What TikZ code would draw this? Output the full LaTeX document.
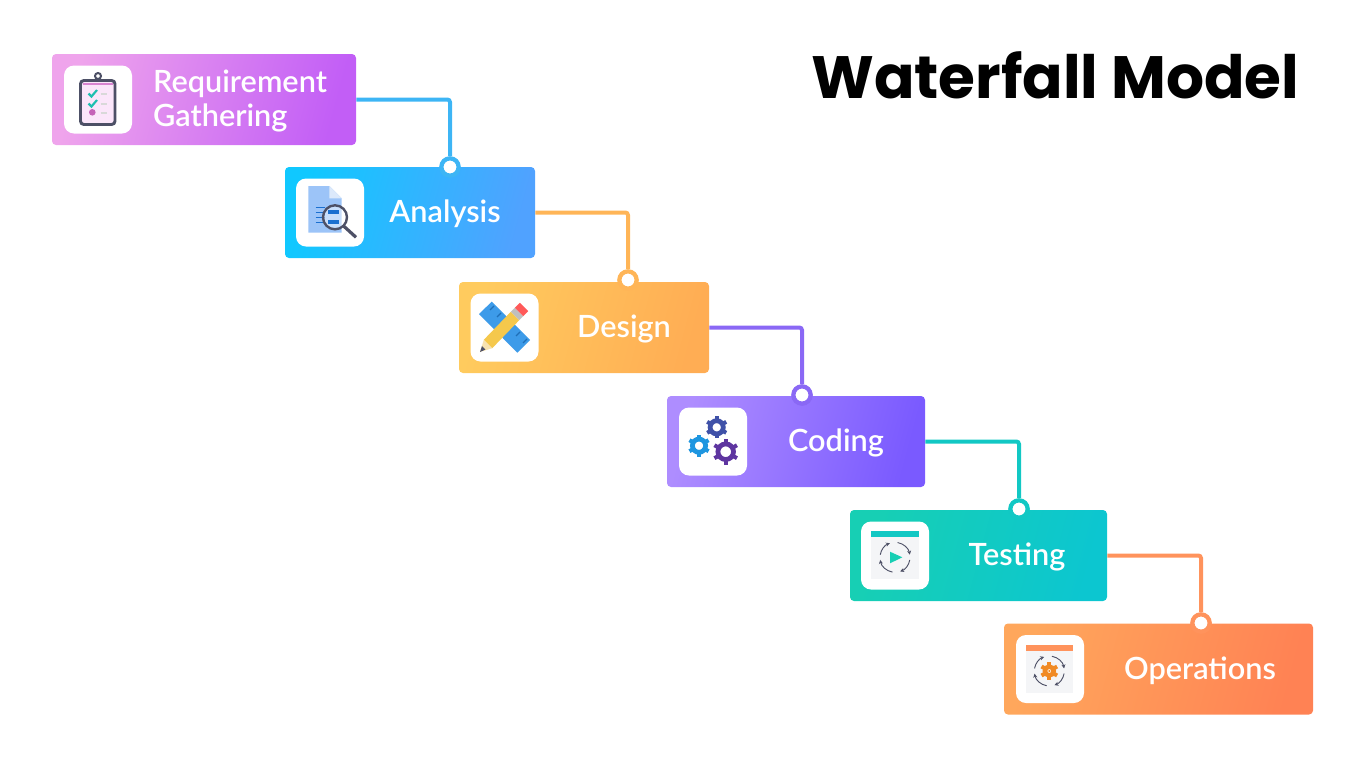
\documentclass[tikz,border=0pt]{standalone}
\usepackage{fontspec}
\setmainfont{Lato}
\newfontfamily\labelfont{Lato Semibold}
\newfontfamily\titlefont{Poppins}[UprightFont=* Bold]
\usetikzlibrary{shadings,arrows.meta}

\definecolor{reqa}{HTML}{EFA4EC}
\definecolor{reqb}{HTML}{C25EF6}
\definecolor{anaa}{HTML}{10C8FF}
\definecolor{anab}{HTML}{50A2FF}
\definecolor{desa}{HTML}{FFCB5E}
\definecolor{desb}{HTML}{FFAD54}
\definecolor{coda}{HTML}{AE8DFF}
\definecolor{codb}{HTML}{7A5AFF}
\definecolor{tesa}{HTML}{17CFB4}
\definecolor{tesb}{HTML}{0CC6D0}
\definecolor{opsa}{HTML}{FFA75C}
\definecolor{opsb}{HTML}{FF8254}
\definecolor{analine}{HTML}{3DB5F5}
\definecolor{desline}{HTML}{FFB557}
\definecolor{codline}{HTML}{8A68F5}
\definecolor{tesline}{HTML}{12C8C4}
\definecolor{opsline}{HTML}{FF935C}
\definecolor{inkgray}{HTML}{4D5066}
\definecolor{panelgray}{HTML}{F4F5F7}
\definecolor{clipfill}{HTML}{FBE6FA}
\definecolor{clipband}{HTML}{D884D0}
\definecolor{clipcheck}{HTML}{1FBFB0}
\definecolor{clipdot}{HTML}{C562B8}
\definecolor{docpage}{HTML}{9CC4F8}
\definecolor{docfold}{HTML}{DCE9FB}
\definecolor{docbar}{HTML}{1A6FD0}
\definecolor{rulerblue}{HTML}{3D9BE9}
\definecolor{rulertick}{HTML}{1F6FB8}
\definecolor{pencilbody}{HTML}{F5C84C}
\definecolor{pencilwood}{HTML}{F7E2B0}
\definecolor{gearindigo}{HTML}{3F51A8}
\definecolor{gearcyan}{HTML}{1E96E0}
\definecolor{gearviolet}{HTML}{5E35A0}
\definecolor{gearorange}{HTML}{F08A24}

\tikzset{
  stagebox/.style={inner sep=0pt, rounded corners=3pt},
  icontile/.style={fill=white, inner sep=0pt, minimum size=51pt, rounded corners=7.5pt},
  stagelabel/.style={text=white, inner sep=0pt, align=left, font=\labelfont\fontsize{23}{25.5}\selectfont},
  joindot/.style={circle, draw, fill=white, inner sep=0pt, minimum size=13pt, line width=3.2pt},
  joinline/.style={line width=3pt, rounded corners=2pt},
  looparc/.style={inkgray, line width=0.7pt, -{Stealth[length=3pt,width=3pt]}}
}

\begin{document}
\begin{tikzpicture}[x=0.75pt,y=-0.75pt]
\useasboundingbox (0,0) rectangle (1366,768);

\node[anchor=base west, inner sep=0pt, font=\titlefont\fontsize{44.8}{45}\selectfont] (title) at (811,98) {Waterfall Model};

% coloured boxes with the white tile and the label
\foreach \nm/\bx/\by/\bw/\ca/\cb/\tx/\lx/\txt in {
  req/204/99.5/304/reqa/reqb/98/240/{Requirement\\Gathering},
  ana/410/212.5/250/anaa/anab/330/445/Analysis,
  des/584/327.5/250/desa/desb/504.5/624/Design,
  cod/796/441.5/258/coda/codb/713/836/Coding,
  tes/978.5/555.5/257/tesa/tesb/895/1017/Testing,
  ops/1158.5/669/309/opsa/opsb/1050/1200/Operations} {
\node[stagebox, left color=\ca, right color=\cb, shading angle=75, minimum width=\bw*0.75pt, minimum height=68.25pt] (\nm box) at (\bx,\by) {};
\node[icontile] (\nm icon) at (\tx,\by) {};
\node[stagelabel] (\nm label) at (\lx,\by+1.5) {\txt};
}

% dots on the top edge of each box
\foreach \nm/\dx/\dy/\cc in {ana/450/167/analine, des/628/280/desline, cod/802/395/codline, tes/1019/509/tesline, ops/1201/623/opsline} {
\node[joindot, draw=\cc] (\nm dot) at (\dx,\dy) {};
}

\draw[joinline, analine] (reqbox.east) -| (anadot.north);
\draw[joinline, desline] (anabox.east) -| (desdot.north);
\draw[joinline, codline] (desbox.east) -| (coddot.north);
\draw[joinline, tesline] (codbox.east) -| (tesdot.north);
\draw[joinline, opsline] (tesbox.east) -| (opsdot.north);

% clipboard
\draw[inkgray, line width=1.5pt] (98,76) circle (3);
\draw[inkgray, fill=clipfill, line width=2.2pt, rounded corners=2.5pt] (80.5,80.5) rectangle (115,124.5);
\fill[clipband] (83,83) rectangle (112.5,85);
\foreach \y in {90,100} {
\draw[clipcheck, line width=1.6pt] (88.5,\y+3.5) -- (91.5,\y+6.5) -- (97,\y);
\draw[gray!30, line width=1.5pt] (100.5,\y+3.5) -- (106.5,\y+3.5);
}
\fill[clipdot] (92.3,112.3) circle (3.3);
\draw[gray!30, line width=1.5pt] (100.5,112.5) -- (106.5,112.5);

% document with magnifier
\fill[docpage] (308.3,186) -- (329.3,186) -- (341.7,198.3) -- (341.7,232.7) -- (308.3,232.7) -- cycle;
\fill[docfold] (329.3,186) -- (341.7,198.3) -- (329.3,198.3) -- cycle;
\foreach \y in {207.3,212.3,217.3,222.3} {
\draw[docbar, line width=1.2pt] (315.7,\y) -- (325,\y);
}
\fill[white, opacity=0.45] (335,217.3) circle (12);
\fill[docbar] (328.3,210) rectangle (339.3,213.5);
\fill[docbar] (328.3,220) rectangle (339.3,224);
\draw[inkgray, line width=1.8pt] (335,217.3) circle (12);
\draw[inkgray, line width=2.4pt] (343.6,226) -- (356,237.3);

% ruler and pencil
\fill[rulerblue] (491.7,301.7) -- (479,314) -- (517.3,352.7) -- (530,340) -- cycle;
\foreach \a/\b in {490/310,497/317,516/336,523/343} {
\draw[rulertick, line width=1pt] (\a,\b) -- (\a+4,\b-4);
}
\fill[pencilbody] (483.8,339.8) -- (510.8,311.8) -- (519.2,320.2) -- (492.2,348.2) -- cycle;
\fill[pencilwood] (483.8,339.8) -- (492.2,348.2) -- (480,352) -- cycle;
\fill[inkgray] (482,346) -- (485.5,349.5) -- (480,352) -- cycle;
\fill[gray!50] (510.8,311.8) -- (514.8,307.8) -- (523.2,316.2) -- (519.2,320.2) -- cycle;
\fill[red!65!white] (514.8,307.8) -- (519.8,302.8) -- (528.2,311.2) -- (523.2,316.2) -- cycle;

% three gears
\foreach \gx/\gy/\gr/\gc in {716.7/427.3/11/gearindigo, 699/445.7/11/gearcyan, 725.7/451.7/13/gearviolet} {
\foreach \a in {30,90,...,330} {
\draw[\gc, line width=3pt] (\gx,\gy) -- ++(\a:\gr);
}
\draw[\gc, fill=white, line width=3.6pt] (\gx,\gy) circle (\gr*0.6);
}

% window with play button
\fill[panelgray] (870.7,536.7) rectangle (918.7,579);
\fill[tesline] (870.7,531) rectangle (918.7,536.7);
\fill[tesa] (890,551.7) -- (890,563.3) -- (902.3,557.3) -- cycle;
\foreach \s/\e in {10/70, 100/170, 190/250, 280/350} {
\draw[looparc] (895,557.3) ++(\s:15) arc[start angle=\s, end angle=\e, radius=15];
}

% window with orange gear
\fill[panelgray] (1025.7,651) rectangle (1073.3,692.7);
\fill[opsline] (1025.7,645) rectangle (1073.3,651);
\foreach \a in {30,90,...,330} {
\draw[gearorange, line width=3pt] (1049.3,671) -- ++(\a:9);
}
\draw[gearorange, fill=white, line width=3.4pt] (1049.3,671) circle (4.4);
\fill[gearorange] (1049.3,671) circle (1.2);
\foreach \s/\e in {10/70, 100/170, 190/250, 280/350} {
\draw[looparc] (1049.3,671) ++(\s:15) arc[start angle=\s, end angle=\e, radius=15];
}

\end{tikzpicture}
\end{document}
